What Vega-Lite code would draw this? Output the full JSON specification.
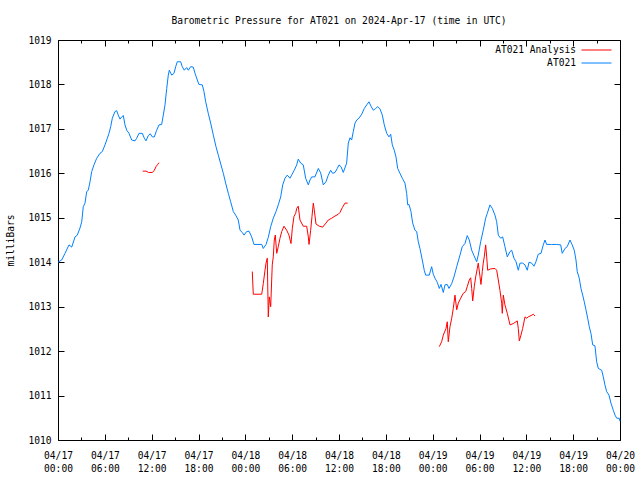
{
  "$schema": "https://vega.github.io/schema/vega-lite/v6.json",
  "width": 562,
  "height": 400,
  "autosize": "none",
  "padding": {"left": 58, "top": 40, "right": 20, "bottom": 40},
  "background": "white",
  "title": {"text": "Barometric Pressure for AT021 on 2024-Apr-17 (time in UTC)", "font": "DejaVu Sans Mono", "fontSize": 9.6, "fontWeight": "normal", "color": "black", "anchor": "middle", "offset": 9},
  "data": {"values": [
    {"series":"AT021","seg":"b","h":0,"p":1014.0},{"series":"AT021","seg":"b","h":0.47,"p":1014.05},{"series":"AT021","seg":"b","h":0.9,"p":1014.2},{"series":"AT021","seg":"b","h":1.41,"p":1014.39},{"series":"AT021","seg":"b","h":1.76,"p":1014.34},{"series":"AT021","seg":"b","h":2.18,"p":1014.57},{"series":"AT021","seg":"b","h":2.47,"p":1014.61},{"series":"AT021","seg":"b","h":2.82,"p":1014.77},{"series":"AT021","seg":"b","h":3.04,"p":1014.91},{"series":"AT021","seg":"b","h":3.24,"p":1015.25},{"series":"AT021","seg":"b","h":3.46,"p":1015.33},{"series":"AT021","seg":"b","h":3.68,"p":1015.59},{"series":"AT021","seg":"b","h":3.88,"p":1015.62},{"series":"AT021","seg":"b","h":4.1,"p":1015.81},{"series":"AT021","seg":"b","h":4.32,"p":1016.04},{"series":"AT021","seg":"b","h":4.61,"p":1016.19},{"series":"AT021","seg":"b","h":4.96,"p":1016.34},{"series":"AT021","seg":"b","h":5.38,"p":1016.45},{"series":"AT021","seg":"b","h":5.68,"p":1016.49},{"series":"AT021","seg":"b","h":6.02,"p":1016.64},{"series":"AT021","seg":"b","h":6.32,"p":1016.79},{"series":"AT021","seg":"b","h":6.53,"p":1016.9},{"series":"AT021","seg":"b","h":6.75,"p":1017.05},{"series":"AT021","seg":"b","h":6.96,"p":1017.24},{"series":"AT021","seg":"b","h":7.3,"p":1017.39},{"series":"AT021","seg":"b","h":7.52,"p":1017.41},{"series":"AT021","seg":"b","h":7.72,"p":1017.31},{"series":"AT021","seg":"b","h":7.94,"p":1017.22},{"series":"AT021","seg":"b","h":8.16,"p":1017.27},{"series":"AT021","seg":"b","h":8.37,"p":1017.3},{"series":"AT021","seg":"b","h":8.58,"p":1017.09},{"series":"AT021","seg":"b","h":8.8,"p":1016.97},{"series":"AT021","seg":"b","h":9.1,"p":1016.9},{"series":"AT021","seg":"b","h":9.44,"p":1016.75},{"series":"AT021","seg":"b","h":9.86,"p":1016.73},{"series":"AT021","seg":"b","h":10.08,"p":1016.79},{"series":"AT021","seg":"b","h":10.38,"p":1016.9},{"series":"AT021","seg":"b","h":10.8,"p":1016.9},{"series":"AT021","seg":"b","h":11.06,"p":1016.79},{"series":"AT021","seg":"b","h":11.27,"p":1016.73},{"series":"AT021","seg":"b","h":11.57,"p":1016.85},{"series":"AT021","seg":"b","h":11.82,"p":1016.89},{"series":"AT021","seg":"b","h":12.08,"p":1016.82},{"series":"AT021","seg":"b","h":12.34,"p":1016.82},{"series":"AT021","seg":"b","h":12.64,"p":1016.97},{"series":"AT021","seg":"b","h":12.94,"p":1017.09},{"series":"AT021","seg":"b","h":13.28,"p":1017.1},{"series":"AT021","seg":"b","h":13.49,"p":1017.31},{"series":"AT021","seg":"b","h":13.71,"p":1017.54},{"series":"AT021","seg":"b","h":13.93,"p":1017.91},{"series":"AT021","seg":"b","h":14.13,"p":1018.21},{"series":"AT021","seg":"b","h":14.26,"p":1018.32},{"series":"AT021","seg":"b","h":14.57,"p":1018.21},{"series":"AT021","seg":"b","h":14.86,"p":1018.25},{"series":"AT021","seg":"b","h":15.08,"p":1018.4},{"series":"AT021","seg":"b","h":15.28,"p":1018.51},{"series":"AT021","seg":"b","h":15.72,"p":1018.51},{"series":"AT021","seg":"b","h":15.92,"p":1018.4},{"series":"AT021","seg":"b","h":16.18,"p":1018.32},{"series":"AT021","seg":"b","h":16.49,"p":1018.38},{"series":"AT021","seg":"b","h":16.69,"p":1018.32},{"series":"AT021","seg":"b","h":17.0,"p":1018.4},{"series":"AT021","seg":"b","h":17.33,"p":1018.39},{"series":"AT021","seg":"b","h":17.55,"p":1018.25},{"series":"AT021","seg":"b","h":17.85,"p":1018.1},{"series":"AT021","seg":"b","h":18.06,"p":1018.0},{"series":"AT021","seg":"b","h":18.49,"p":1017.99},{"series":"AT021","seg":"b","h":18.7,"p":1017.84},{"series":"AT021","seg":"b","h":18.92,"p":1017.61},{"series":"AT021","seg":"b","h":19.25,"p":1017.35},{"series":"AT021","seg":"b","h":19.56,"p":1017.13},{"series":"AT021","seg":"b","h":19.9,"p":1016.86},{"series":"AT021","seg":"b","h":20.24,"p":1016.6},{"series":"AT021","seg":"b","h":20.54,"p":1016.41},{"series":"AT021","seg":"b","h":20.88,"p":1016.19},{"series":"AT021","seg":"b","h":21.18,"p":1016.0},{"series":"AT021","seg":"b","h":21.48,"p":1015.78},{"series":"AT021","seg":"b","h":21.82,"p":1015.55},{"series":"AT021","seg":"b","h":22.12,"p":1015.36},{"series":"AT021","seg":"b","h":22.46,"p":1015.14},{"series":"AT021","seg":"b","h":22.76,"p":1015.06},{"series":"AT021","seg":"b","h":23.1,"p":1014.95},{"series":"AT021","seg":"b","h":23.32,"p":1014.72},{"series":"AT021","seg":"b","h":23.61,"p":1014.67},{"series":"AT021","seg":"b","h":23.83,"p":1014.61},{"series":"AT021","seg":"b","h":24.17,"p":1014.69},{"series":"AT021","seg":"b","h":24.47,"p":1014.7},{"series":"AT021","seg":"b","h":24.81,"p":1014.57},{"series":"AT021","seg":"b","h":25.11,"p":1014.4},{"series":"AT021","seg":"b","h":26.1,"p":1014.4},{"series":"AT021","seg":"b","h":26.3,"p":1014.31},{"series":"AT021","seg":"b","h":26.65,"p":1014.4},{"series":"AT021","seg":"b","h":26.94,"p":1014.56},{"series":"AT021","seg":"b","h":27.25,"p":1014.8},{"series":"AT021","seg":"b","h":27.58,"p":1014.99},{"series":"AT021","seg":"b","h":27.93,"p":1015.14},{"series":"AT021","seg":"b","h":28.22,"p":1015.29},{"series":"AT021","seg":"b","h":28.53,"p":1015.47},{"series":"AT021","seg":"b","h":28.79,"p":1015.74},{"series":"AT021","seg":"b","h":29.08,"p":1015.89},{"series":"AT021","seg":"b","h":29.37,"p":1015.96},{"series":"AT021","seg":"b","h":29.72,"p":1015.89},{"series":"AT021","seg":"b","h":29.93,"p":1015.96},{"series":"AT021","seg":"b","h":30.27,"p":1016.07},{"series":"AT021","seg":"b","h":30.58,"p":1016.19},{"series":"AT021","seg":"b","h":30.78,"p":1016.32},{"series":"AT021","seg":"b","h":31.09,"p":1016.23},{"series":"AT021","seg":"b","h":31.42,"p":1016.19},{"series":"AT021","seg":"b","h":31.73,"p":1015.89},{"series":"AT021","seg":"b","h":32.07,"p":1015.74},{"series":"AT021","seg":"b","h":32.28,"p":1015.85},{"series":"AT021","seg":"b","h":32.5,"p":1015.92},{"series":"AT021","seg":"b","h":32.92,"p":1015.92},{"series":"AT021","seg":"b","h":33.35,"p":1016.11},{"series":"AT021","seg":"b","h":33.65,"p":1016.01},{"series":"AT021","seg":"b","h":33.99,"p":1015.74},{"series":"AT021","seg":"b","h":34.33,"p":1015.81},{"series":"AT021","seg":"b","h":34.63,"p":1015.96},{"series":"AT021","seg":"b","h":34.93,"p":1016.07},{"series":"AT021","seg":"b","h":35.19,"p":1016.0},{"series":"AT021","seg":"b","h":35.49,"p":1016.02},{"series":"AT021","seg":"b","h":35.78,"p":1016.11},{"series":"AT021","seg":"b","h":36.0,"p":1016.19},{"series":"AT021","seg":"b","h":36.26,"p":1016.15},{"series":"AT021","seg":"b","h":36.55,"p":1016.02},{"series":"AT021","seg":"b","h":36.98,"p":1016.23},{"series":"AT021","seg":"b","h":37.19,"p":1016.68},{"series":"AT021","seg":"b","h":37.41,"p":1016.8},{"series":"AT021","seg":"b","h":37.62,"p":1016.75},{"series":"AT021","seg":"b","h":37.83,"p":1016.94},{"series":"AT021","seg":"b","h":38.05,"p":1017.13},{"series":"AT021","seg":"b","h":38.27,"p":1017.2},{"series":"AT021","seg":"b","h":38.56,"p":1017.24},{"series":"AT021","seg":"b","h":38.91,"p":1017.33},{"series":"AT021","seg":"b","h":39.24,"p":1017.46},{"series":"AT021","seg":"b","h":39.55,"p":1017.54},{"series":"AT021","seg":"b","h":39.84,"p":1017.61},{"series":"AT021","seg":"b","h":40.1,"p":1017.51},{"series":"AT021","seg":"b","h":40.39,"p":1017.42},{"series":"AT021","seg":"b","h":40.7,"p":1017.46},{"series":"AT021","seg":"b","h":40.96,"p":1017.5},{"series":"AT021","seg":"b","h":41.25,"p":1017.45},{"series":"AT021","seg":"b","h":41.55,"p":1017.31},{"series":"AT021","seg":"b","h":41.8,"p":1017.09},{"series":"AT021","seg":"b","h":42.11,"p":1016.9},{"series":"AT021","seg":"b","h":42.4,"p":1016.82},{"series":"AT021","seg":"b","h":42.62,"p":1016.88},{"series":"AT021","seg":"b","h":42.83,"p":1016.64},{"series":"AT021","seg":"b","h":43.08,"p":1016.52},{"series":"AT021","seg":"b","h":43.3,"p":1016.37},{"series":"AT021","seg":"b","h":43.52,"p":1016.11},{"series":"AT021","seg":"b","h":43.81,"p":1016.0},{"series":"AT021","seg":"b","h":44.11,"p":1015.89},{"series":"AT021","seg":"b","h":44.45,"p":1015.78},{"series":"AT021","seg":"b","h":44.67,"p":1015.55},{"series":"AT021","seg":"b","h":44.8,"p":1015.29},{"series":"AT021","seg":"b","h":44.97,"p":1015.3},{"series":"AT021","seg":"b","h":45.22,"p":1015.14},{"series":"AT021","seg":"b","h":45.44,"p":1014.88},{"series":"AT021","seg":"b","h":45.73,"p":1014.72},{"series":"AT021","seg":"b","h":45.95,"p":1014.69},{"series":"AT021","seg":"b","h":46.16,"p":1014.46},{"series":"AT021","seg":"b","h":46.37,"p":1014.31},{"series":"AT021","seg":"b","h":46.67,"p":1014.05},{"series":"AT021","seg":"b","h":46.92,"p":1013.82},{"series":"AT021","seg":"b","h":47.1,"p":1013.71},{"series":"AT021","seg":"b","h":47.57,"p":1013.71},{"series":"AT021","seg":"b","h":47.87,"p":1013.9},{"series":"AT021","seg":"b","h":48.08,"p":1013.73},{"series":"AT021","seg":"b","h":48.3,"p":1013.64},{"series":"AT021","seg":"b","h":48.59,"p":1013.55},{"series":"AT021","seg":"b","h":48.85,"p":1013.41},{"series":"AT021","seg":"b","h":49.07,"p":1013.5},{"series":"AT021","seg":"b","h":49.36,"p":1013.32},{"series":"AT021","seg":"b","h":49.58,"p":1013.49},{"series":"AT021","seg":"b","h":49.87,"p":1013.5},{"series":"AT021","seg":"b","h":50.09,"p":1013.41},{"series":"AT021","seg":"b","h":50.44,"p":1013.52},{"series":"AT021","seg":"b","h":50.73,"p":1013.67},{"series":"AT021","seg":"b","h":51.08,"p":1013.9},{"series":"AT021","seg":"b","h":51.5,"p":1014.16},{"series":"AT021","seg":"b","h":51.79,"p":1014.35},{"series":"AT021","seg":"b","h":52.14,"p":1014.42},{"series":"AT021","seg":"b","h":52.43,"p":1014.6},{"series":"AT021","seg":"b","h":52.69,"p":1014.5},{"series":"AT021","seg":"b","h":53.0,"p":1014.27},{"series":"AT021","seg":"b","h":53.29,"p":1014.15},{"series":"AT021","seg":"b","h":53.64,"p":1014.01},{"series":"AT021","seg":"b","h":53.84,"p":1014.16},{"series":"AT021","seg":"b","h":54.15,"p":1014.46},{"series":"AT021","seg":"b","h":54.48,"p":1014.72},{"series":"AT021","seg":"b","h":54.79,"p":1014.99},{"series":"AT021","seg":"b","h":55.0,"p":1015.1},{"series":"AT021","seg":"b","h":55.34,"p":1015.29},{"series":"AT021","seg":"b","h":55.64,"p":1015.21},{"series":"AT021","seg":"b","h":55.98,"p":1015.06},{"series":"AT021","seg":"b","h":56.2,"p":1014.91},{"series":"AT021","seg":"b","h":56.41,"p":1014.61},{"series":"AT021","seg":"b","h":56.71,"p":1014.54},{"series":"AT021","seg":"b","h":56.97,"p":1014.57},{"series":"AT021","seg":"b","h":57.26,"p":1014.35},{"series":"AT021","seg":"b","h":57.56,"p":1014.12},{"series":"AT021","seg":"b","h":57.91,"p":1014.24},{"series":"AT021","seg":"b","h":58.12,"p":1014.27},{"series":"AT021","seg":"b","h":58.42,"p":1014.09},{"series":"AT021","seg":"b","h":58.68,"p":1014.01},{"series":"AT021","seg":"b","h":58.97,"p":1013.82},{"series":"AT021","seg":"b","h":59.19,"p":1013.98},{"series":"AT021","seg":"b","h":59.53,"p":1013.98},{"series":"AT021","seg":"b","h":59.83,"p":1013.94},{"series":"AT021","seg":"b","h":60.12,"p":1013.82},{"series":"AT021","seg":"b","h":60.34,"p":1014.0},{"series":"AT021","seg":"b","h":60.68,"p":1013.98},{"series":"AT021","seg":"b","h":60.98,"p":1013.91},{"series":"AT021","seg":"b","h":61.23,"p":1014.01},{"series":"AT021","seg":"b","h":61.53,"p":1014.18},{"series":"AT021","seg":"b","h":61.88,"p":1014.2},{"series":"AT021","seg":"b","h":62.17,"p":1014.39},{"series":"AT021","seg":"b","h":62.39,"p":1014.5},{"series":"AT021","seg":"b","h":62.6,"p":1014.4},{"series":"AT021","seg":"b","h":63.24,"p":1014.4},{"series":"AT021","seg":"b","h":63.88,"p":1014.4},{"series":"AT021","seg":"b","h":64.4,"p":1014.39},{"series":"AT021","seg":"b","h":64.6,"p":1014.2},{"series":"AT021","seg":"b","h":64.95,"p":1014.31},{"series":"AT021","seg":"b","h":65.24,"p":1014.35},{"series":"AT021","seg":"b","h":65.59,"p":1014.5},{"series":"AT021","seg":"b","h":65.88,"p":1014.39},{"series":"AT021","seg":"b","h":66.14,"p":1014.27},{"series":"AT021","seg":"b","h":66.36,"p":1014.05},{"series":"AT021","seg":"b","h":66.52,"p":1013.79},{"series":"AT021","seg":"b","h":66.78,"p":1013.64},{"series":"AT021","seg":"b","h":67.0,"p":1013.41},{"series":"AT021","seg":"b","h":67.22,"p":1013.26},{"series":"AT021","seg":"b","h":67.42,"p":1013.11},{"series":"AT021","seg":"b","h":67.64,"p":1012.93},{"series":"AT021","seg":"b","h":67.86,"p":1012.74},{"series":"AT021","seg":"b","h":68.06,"p":1012.55},{"series":"AT021","seg":"b","h":68.28,"p":1012.4},{"series":"AT021","seg":"b","h":68.5,"p":1012.14},{"series":"AT021","seg":"b","h":68.79,"p":1012.12},{"series":"AT021","seg":"b","h":69.01,"p":1011.76},{"series":"AT021","seg":"b","h":69.22,"p":1011.61},{"series":"AT021","seg":"b","h":69.65,"p":1011.57},{"series":"AT021","seg":"b","h":69.86,"p":1011.42},{"series":"AT021","seg":"b","h":70.07,"p":1011.24},{"series":"AT021","seg":"b","h":70.29,"p":1011.09},{"series":"AT021","seg":"b","h":70.59,"p":1011.01},{"series":"AT021","seg":"b","h":70.84,"p":1010.83},{"series":"AT021","seg":"b","h":71.14,"p":1010.67},{"series":"AT021","seg":"b","h":71.36,"p":1010.56},{"series":"AT021","seg":"b","h":71.58,"p":1010.49},{"series":"AT021","seg":"b","h":71.91,"p":1010.49},{"series":"AT021","seg":"b","h":72.0,"p":1010.42},
    {"series":"AT021 Analysis","seg":"r1","h":10.85,"p":1016.05},{"series":"AT021 Analysis","seg":"r1","h":11.27,"p":1016.05},{"series":"AT021 Analysis","seg":"r1","h":11.6,"p":1016.02},{"series":"AT021 Analysis","seg":"r1","h":12.1,"p":1016.02},{"series":"AT021 Analysis","seg":"r1","h":12.34,"p":1016.07},{"series":"AT021 Analysis","seg":"r1","h":12.56,"p":1016.15},{"series":"AT021 Analysis","seg":"r1","h":12.77,"p":1016.2},{"series":"AT021 Analysis","seg":"r1","h":12.94,"p":1016.24},
    {"series":"AT021 Analysis","seg":"r2","h":24.89,"p":1013.79},{"series":"AT021 Analysis","seg":"r2","h":25.02,"p":1013.28},{"series":"AT021 Analysis","seg":"r2","h":26.1,"p":1013.28},{"series":"AT021 Analysis","seg":"r2","h":26.3,"p":1013.52},{"series":"AT021 Analysis","seg":"r2","h":26.52,"p":1013.82},{"series":"AT021 Analysis","seg":"r2","h":26.65,"p":1013.98},{"series":"AT021 Analysis","seg":"r2","h":26.81,"p":1014.09},{"series":"AT021 Analysis","seg":"r2","h":26.94,"p":1012.77},{"series":"AT021 Analysis","seg":"r2","h":27.07,"p":1013.22},{"series":"AT021 Analysis","seg":"r2","h":27.25,"p":1013.0},{"series":"AT021 Analysis","seg":"r2","h":27.45,"p":1013.94},{"series":"AT021 Analysis","seg":"r2","h":27.58,"p":1014.12},{"series":"AT021 Analysis","seg":"r2","h":27.71,"p":1014.5},{"series":"AT021 Analysis","seg":"r2","h":27.84,"p":1014.61},{"series":"AT021 Analysis","seg":"r2","h":28.02,"p":1014.2},{"series":"AT021 Analysis","seg":"r2","h":28.22,"p":1014.35},{"series":"AT021 Analysis","seg":"r2","h":28.44,"p":1014.54},{"series":"AT021 Analysis","seg":"r2","h":28.66,"p":1014.69},{"series":"AT021 Analysis","seg":"r2","h":28.95,"p":1014.81},{"series":"AT021 Analysis","seg":"r2","h":29.3,"p":1014.72},{"series":"AT021 Analysis","seg":"r2","h":29.59,"p":1014.61},{"series":"AT021 Analysis","seg":"r2","h":29.85,"p":1014.42},{"series":"AT021 Analysis","seg":"r2","h":30.02,"p":1014.76},{"series":"AT021 Analysis","seg":"r2","h":30.23,"p":1015.03},{"series":"AT021 Analysis","seg":"r2","h":30.45,"p":1015.1},{"series":"AT021 Analysis","seg":"r2","h":30.58,"p":1015.21},{"series":"AT021 Analysis","seg":"r2","h":30.78,"p":1015.26},{"series":"AT021 Analysis","seg":"r2","h":31.0,"p":1014.95},{"series":"AT021 Analysis","seg":"r2","h":31.42,"p":1014.81},{"series":"AT021 Analysis","seg":"r2","h":31.86,"p":1014.81},{"series":"AT021 Analysis","seg":"r2","h":32.07,"p":1014.57},{"series":"AT021 Analysis","seg":"r2","h":32.16,"p":1014.4},{"series":"AT021 Analysis","seg":"r2","h":32.37,"p":1014.72},{"series":"AT021 Analysis","seg":"r2","h":32.54,"p":1015.03},{"series":"AT021 Analysis","seg":"r2","h":32.71,"p":1015.33},{"series":"AT021 Analysis","seg":"r2","h":32.83,"p":1015.18},{"series":"AT021 Analysis","seg":"r2","h":33.05,"p":1014.86},{"series":"AT021 Analysis","seg":"r2","h":33.47,"p":1014.81},{"series":"AT021 Analysis","seg":"r2","h":33.91,"p":1014.79},{"series":"AT021 Analysis","seg":"r2","h":34.33,"p":1014.88},{"series":"AT021 Analysis","seg":"r2","h":34.63,"p":1014.95},{"series":"AT021 Analysis","seg":"r2","h":35.06,"p":1014.99},{"series":"AT021 Analysis","seg":"r2","h":35.49,"p":1015.04},{"series":"AT021 Analysis","seg":"r2","h":35.91,"p":1015.08},{"series":"AT021 Analysis","seg":"r2","h":36.13,"p":1015.12},{"series":"AT021 Analysis","seg":"r2","h":36.43,"p":1015.23},{"series":"AT021 Analysis","seg":"r2","h":36.77,"p":1015.33},{"series":"AT021 Analysis","seg":"r2","h":37.11,"p":1015.33},
    {"series":"AT021 Analysis","seg":"r3","h":48.85,"p":1012.1},{"series":"AT021 Analysis","seg":"r3","h":49.15,"p":1012.21},{"series":"AT021 Analysis","seg":"r3","h":49.36,"p":1012.36},{"series":"AT021 Analysis","seg":"r3","h":49.71,"p":1012.51},{"series":"AT021 Analysis","seg":"r3","h":49.87,"p":1012.66},{"series":"AT021 Analysis","seg":"r3","h":50.0,"p":1012.21},{"series":"AT021 Analysis","seg":"r3","h":50.22,"p":1012.55},{"series":"AT021 Analysis","seg":"r3","h":50.44,"p":1012.74},{"series":"AT021 Analysis","seg":"r3","h":50.64,"p":1012.96},{"series":"AT021 Analysis","seg":"r3","h":50.86,"p":1013.26},{"series":"AT021 Analysis","seg":"r3","h":51.08,"p":1012.93},{"series":"AT021 Analysis","seg":"r3","h":51.28,"p":1013.08},{"series":"AT021 Analysis","seg":"r3","h":51.59,"p":1013.19},{"series":"AT021 Analysis","seg":"r3","h":51.92,"p":1013.3},{"series":"AT021 Analysis","seg":"r3","h":52.23,"p":1013.34},{"series":"AT021 Analysis","seg":"r3","h":52.43,"p":1013.45},{"series":"AT021 Analysis","seg":"r3","h":52.69,"p":1013.6},{"series":"AT021 Analysis","seg":"r3","h":52.87,"p":1013.65},{"series":"AT021 Analysis","seg":"r3","h":53.0,"p":1013.41},{"series":"AT021 Analysis","seg":"r3","h":53.13,"p":1013.13},{"series":"AT021 Analysis","seg":"r3","h":53.33,"p":1013.45},{"series":"AT021 Analysis","seg":"r3","h":53.51,"p":1013.67},{"series":"AT021 Analysis","seg":"r3","h":53.72,"p":1013.86},{"series":"AT021 Analysis","seg":"r3","h":53.84,"p":1013.98},{"series":"AT021 Analysis","seg":"r3","h":54.07,"p":1013.67},{"series":"AT021 Analysis","seg":"r3","h":54.19,"p":1013.5},{"series":"AT021 Analysis","seg":"r3","h":54.36,"p":1013.79},{"series":"AT021 Analysis","seg":"r3","h":54.48,"p":1013.98},{"series":"AT021 Analysis","seg":"r3","h":54.61,"p":1014.12},{"series":"AT021 Analysis","seg":"r3","h":54.79,"p":1014.39},{"series":"AT021 Analysis","seg":"r3","h":54.92,"p":1014.12},{"series":"AT021 Analysis","seg":"r3","h":55.05,"p":1013.82},{"series":"AT021 Analysis","seg":"r3","h":55.43,"p":1013.85},{"series":"AT021 Analysis","seg":"r3","h":55.98,"p":1013.86},{"series":"AT021 Analysis","seg":"r3","h":56.2,"p":1013.82},{"series":"AT021 Analysis","seg":"r3","h":56.41,"p":1013.6},{"series":"AT021 Analysis","seg":"r3","h":56.62,"p":1013.37},{"series":"AT021 Analysis","seg":"r3","h":56.84,"p":1013.08},{"series":"AT021 Analysis","seg":"r3","h":56.92,"p":1012.85},{"series":"AT021 Analysis","seg":"r3","h":57.05,"p":1013.26},{"series":"AT021 Analysis","seg":"r3","h":57.26,"p":1013.04},{"series":"AT021 Analysis","seg":"r3","h":57.56,"p":1012.85},{"series":"AT021 Analysis","seg":"r3","h":57.91,"p":1012.59},{"series":"AT021 Analysis","seg":"r3","h":58.33,"p":1012.62},{"series":"AT021 Analysis","seg":"r3","h":58.84,"p":1012.68},{"series":"AT021 Analysis","seg":"r3","h":58.97,"p":1012.51},{"series":"AT021 Analysis","seg":"r3","h":59.1,"p":1012.23},{"series":"AT021 Analysis","seg":"r3","h":59.31,"p":1012.36},{"series":"AT021 Analysis","seg":"r3","h":59.53,"p":1012.51},{"series":"AT021 Analysis","seg":"r3","h":59.83,"p":1012.77},{"series":"AT021 Analysis","seg":"r3","h":60.04,"p":1012.74},{"series":"AT021 Analysis","seg":"r3","h":60.25,"p":1012.77},{"series":"AT021 Analysis","seg":"r3","h":60.6,"p":1012.8},{"series":"AT021 Analysis","seg":"r3","h":60.9,"p":1012.83},{"series":"AT021 Analysis","seg":"r3","h":61.1,"p":1012.79}
  ]},
  "layer": [
    {
      "transform": [{"filter": "datum.series == 'AT021'"}],
      "mark": {"type": "line", "strokeWidth": 1},
      "encoding": {
        "x": {"field": "h", "type": "quantitative", "scale": {"domain": [0, 72], "nice": false, "zero": false},
          "axis": {"orient": "bottom", "values": [0,6,12,18,24,30,36,42,48,54,60,66,72], "tickSize": -6, "labelPadding": 16, "title": null,
            "labelExpr": "['04/' + (17 + floor(datum.value / 24)), (datum.value % 24 < 10 ? '0' : '') + (datum.value % 24) + ':00']",
            "labelLineHeight": 13, "labelBaseline": "top", "labelFlush": false, "labelOverlap": false}},
        "y": {"field": "p", "type": "quantitative", "scale": {"domain": [1010, 1019], "nice": false, "zero": false},
          "axis": {"orient": "left", "values": [1010,1011,1012,1013,1014,1015,1016,1017,1018,1019], "tickSize": -6, "labelPadding": 13, "format": "d",
            "title": "milliBars", "titleX": -48, "titleY": 200, "titleAngle": -90, "titleAlign": "center", "titleBaseline": "middle", "labelFlush": false, "labelOverlap": false}},
        "detail": {"field": "seg", "type": "nominal"},
        "color": {"field": "series", "type": "nominal", "scale": {"domain": ["AT021"], "range": ["#0080ff"]},
          "legend": {"orient": "none", "legendX": 523, "legendY": 7.5, "title": null, "symbolType": "stroke", "symbolSize": 900, "symbolStrokeWidth": 1,
            "symbolStrokeColor": "#0080ff", "symbolFillColor": "transparent",
            "labelAlign": "right", "labelOffset": -36, "padding": 0, "labelFont": "DejaVu Sans Mono", "labelFontSize": 9.6, "labelColor": "black"}}
      }
    },
    {
      "transform": [{"filter": "datum.series == 'AT021 Analysis'"}],
      "mark": {"type": "line", "strokeWidth": 1},
      "encoding": {
        "x": {"field": "h", "type": "quantitative", "scale": {"domain": [0, 72], "nice": false, "zero": false}, "axis": null},
        "y": {"field": "p", "type": "quantitative", "scale": {"domain": [1010, 1019], "nice": false, "zero": false}, "axis": null},
        "detail": {"field": "seg", "type": "nominal"},
        "stroke": {"field": "series", "type": "nominal", "scale": {"domain": ["AT021 Analysis"], "range": ["#ff0000"]},
          "legend": {"orient": "none", "legendX": 523, "legendY": -5.5, "title": null, "symbolType": "stroke", "symbolSize": 900, "symbolStrokeWidth": 1,
            "symbolStrokeColor": "#ff0000", "symbolFillColor": "transparent",
            "labelAlign": "right", "labelOffset": -36, "padding": 0, "labelFont": "DejaVu Sans Mono", "labelFontSize": 9.6, "labelColor": "black"}}
      }
    },
    {
      "mark": {"type": "line", "opacity": 0},
      "encoding": {
        "x": {"field": "h", "type": "quantitative", "scale": {"domain": [0, 72], "nice": false, "zero": false},
          "axis": {"orient": "top", "values": [0,6,12,18,24,30,36,42,48,54,60,66,72], "tickSize": -6, "labels": false, "title": null}},
        "y": {"field": "p", "type": "quantitative", "scale": {"domain": [1010, 1019], "nice": false, "zero": false},
          "axis": {"orient": "right", "values": [1010,1011,1012,1013,1014,1015,1016,1017,1018,1019], "tickSize": -6, "labels": false, "title": null}},
        "detail": {"field": "seg", "type": "nominal"}
      }
    },
    {
      "mark": {"type": "line", "opacity": 0},
      "encoding": {
        "x": {"field": "h", "type": "quantitative", "scale": {"domain": [0, 72], "nice": false, "zero": false},
          "axis": {"orient": "bottom", "values": [3,9,15,21,27,33,39,45,51,57,63,69], "tickSize": -3, "labels": false, "title": null}},
        "y": {"field": "p", "type": "quantitative", "scale": {"domain": [1010, 1019], "nice": false, "zero": false}, "axis": null},
        "detail": {"field": "seg", "type": "nominal"}
      }
    },
    {
      "mark": {"type": "line", "opacity": 0},
      "encoding": {
        "x": {"field": "h", "type": "quantitative", "scale": {"domain": [0, 72], "nice": false, "zero": false},
          "axis": {"orient": "top", "values": [3,9,15,21,27,33,39,45,51,57,63,69], "tickSize": -3, "labels": false, "title": null}},
        "y": {"field": "p", "type": "quantitative", "scale": {"domain": [1010, 1019], "nice": false, "zero": false}, "axis": null},
        "detail": {"field": "seg", "type": "nominal"}
      }
    }
  ],
  "resolve": {"axis": {"x": "independent", "y": "independent"}},
  "config": {
    "font": "DejaVu Sans Mono",
    "view": {"stroke": "black", "strokeWidth": 1},
    "axis": {"domain": false, "grid": false, "tickColor": "black", "tickWidth": 1, "labelColor": "black", "titleColor": "black",
      "labelFont": "DejaVu Sans Mono", "labelFontSize": 9.6, "titleFont": "DejaVu Sans Mono", "titleFontSize": 9.6, "titleFontWeight": "normal"}
  }
}
